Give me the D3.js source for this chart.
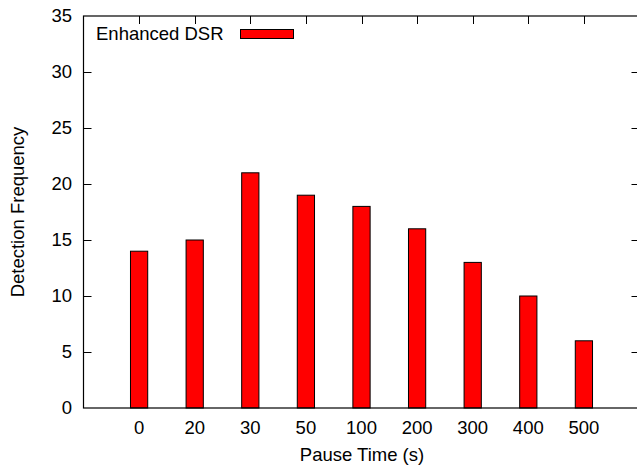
<!DOCTYPE html>
<html>
<head>
<meta charset="utf-8">
<script src="https://cdn.jsdelivr.net/npm/d3@7"></script>
<style>
  html, body { margin: 0; padding: 0; background: #fff; }
  svg { display: block; }
  text { font-family: "Liberation Sans", Arial, sans-serif; fill: #000; }
</style>
</head>
<body>
<svg id="chart" width="637" height="465"></svg>
<script>
const categories = ["0", "20", "30", "50", "100", "200", "300", "400", "500"];
const values = [14, 15, 21, 19, 18, 16, 13, 10, 6];
const yTicks = [0, 5, 10, 15, 20, 25, 30, 35];
const seriesName = "Enhanced DSR";
const xLabel = "Pause Time (s)";
const yLabel = "Detection Frequency";

(function () {
const svg = d3.select("#chart");
const pLeft = 83.5, pRight = 639.5, pTop = 16, pBottom = 408;
const fs = 18.5;

const x = d3.scaleLinear().domain([-1, categories.length]).range([pLeft, pRight]);
const y = d3.scaleLinear().domain([0, 35]).range([pBottom, pTop]);
const barW = 0.31;

// bars
svg.append("g").selectAll("rect").data(values).join("rect")
  .attr("x", (d, i) => x(i - barW / 2))
  .attr("width", (d, i) => x(i + barW / 2) - x(i - barW / 2))
  .attr("y", d => y(d))
  .attr("height", d => y(0) - y(d))
  .attr("fill", "#ff0000")
  .attr("stroke", "#000")
  .attr("stroke-width", 1);

// border
svg.append("rect")
  .attr("x", pLeft).attr("y", pTop)
  .attr("width", pRight - pLeft).attr("height", pBottom - pTop)
  .attr("fill", "none").attr("stroke", "#000").attr("stroke-width", 1.2);

// y ticks (both sides, inward)
const tickLen = 8;
const yg = svg.append("g");
yTicks.forEach(t => {
  const yy = Math.round(y(t)) + 0.5;
  if (t !== 0 && t !== 35) {
    yg.append("line").attr("x1", pLeft).attr("x2", pLeft + tickLen).attr("y1", yy).attr("y2", yy)
      .attr("stroke", "#000");
    yg.append("line").attr("x1", pRight - tickLen).attr("x2", pRight).attr("y1", yy).attr("y2", yy)
      .attr("stroke", "#000");
  }
  yg.append("text").attr("x", 72).attr("y", y(t)).attr("dy", "0.35em")
    .attr("text-anchor", "end").attr("font-size", fs).text(t);
});

// x ticks on top (mirror), labels at bottom
const xg = svg.append("g");
categories.forEach((c, i) => {
  const xx = Math.round(x(i)) + 0.5;
  xg.append("line").attr("x1", xx).attr("x2", xx).attr("y1", pTop).attr("y2", pTop + tickLen)
    .attr("stroke", "#000");
  xg.append("text").attr("x", x(i)).attr("y", 434)
    .attr("text-anchor", "middle").attr("font-size", fs).text(c);
});

// axis labels
svg.append("text").attr("x", 362).attr("y", 461).attr("text-anchor", "middle")
  .attr("font-size", fs).text(xLabel);
svg.append("text").attr("transform", "translate(24,212) rotate(-90)")
  .attr("text-anchor", "middle").attr("font-size", fs).text(yLabel);

// legend
svg.append("text").attr("x", 96).attr("y", 40).attr("font-size", fs).text(seriesName);
svg.append("rect").attr("x", 240.5).attr("y", 29.5).attr("width", 53).attr("height", 9)
  .attr("fill", "#ff0000").attr("stroke", "#000").attr("stroke-width", 1);
})();
</script>
</body>
</html>
